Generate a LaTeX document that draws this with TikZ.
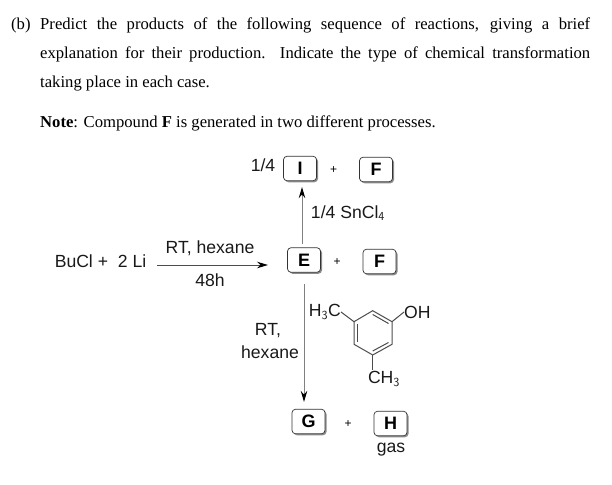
\documentclass[tikz,border=0pt]{standalone}
\usepackage{fontspec}
\setmainfont{Liberation Serif}
\newfontfamily\lsans{Liberation Sans}
\usetikzlibrary{arrows.meta,shadows}
\tikzset{
  body/.style={inner sep=0pt,anchor=base west,font=\fontsize{16.65}{19}\selectfont},
  lab/.style={inner sep=0pt,font=\lsans\fontsize{17.6}{20}\selectfont,text=black!90},
  plus/.style={inner sep=0pt,font=\lsans\fontsize{12}{13}\selectfont},
  cmpd/.style={draw=black!80,line width=0.7pt,rounded corners=3.5pt,fill=white,minimum width=33pt,minimum height=24.5pt,inner sep=0pt,font=\lsans\bfseries\fontsize{18}{20}\selectfont,
    drop shadow={shadow xshift=1.5pt,shadow yshift=-1.5pt,fill=black!50,opacity=0.9}},
  arr/.style={draw=black!50,line width=1pt,-{Stealth[length=11pt,width=6.5pt,black]}},
  bond/.style={draw=black!70,line width=1pt},
}
\begin{document}
\begin{tikzpicture}[x=1pt,y=-1pt]
\useasboundingbox (0,0) rectangle (612,484);
\node[body] (t0) at (11,30) {(b)};
\node[body] (t1) at (40,30) {\makebox[550pt][s]{Predict the products of the following sequence of reactions, giving a brief}};
\node[body] (t2) at (40,59) {\makebox[550pt][s]{explanation for their production. Indicate the type of chemical transformation}};
\node[body] (t3) at (40,88) {taking place in each case.};
\node[body] (t4) at (40,128) {\textbf{Note}: Compound \textbf{F} is generated in two different processes.};

\node[cmpd] (I) at (300,168.5) {I};
\node[cmpd] (F1) at (376,169.5) {F};
\node[cmpd] (E) at (304,260) {E};
\node[cmpd] (F2) at (379.5,261.5) {F};
\node[cmpd] (G) at (308.5,421.5) {G};
\node[cmpd] (H) at (390.5,423.5) {H};

\node[lab] (q) at (263,165) {1/4};
\node[plus] (p1) at (333.5,170) {+};
\node[plus] (p2) at (337,262) {+};
\node[plus] (p3) at (348,424) {+};
\node[lab] (sn) at (348,213) {1/4 SnCl$_{\mathsf 4}$};
\node[lab] (bu) at (100.5,261) {BuCl +\ \ 2 Li};
\node[lab] (rt) at (210,248) {RT, hexane};
\node[lab] (h48) at (210,280) {48h};
\node[lab] (rt2) at (268,331) {RT,};
\node[lab] (hex) at (270,352) {hexane};
\node[lab] (gas) at (391,450) {gas};

\draw[arr] ([xshift=-2pt,yshift=3pt]E.north) -- ([xshift=2pt,yshift=-6pt]I.south);
\draw[arr] ([yshift=-11pt]E.south) -- ([yshift=7pt]E.south |- G.north);
\coordinate (rs) at (157,265);
\coordinate (re) at (268,265);
\draw[arr,draw=black!70] (rs) -- (re);

\coordinate (r1) at (372.7,310.7);
\coordinate (r2) at (392,321.7);
\coordinate (r3) at (392,344.3);
\coordinate (r4) at (372.7,355);
\coordinate (r5) at (354,344.3);
\coordinate (r6) at (354,321.7);
\node[lab,anchor=east] (me1) at (341,312) {H$_{\mathsf 3}$C};
\node[lab,anchor=west] (oh) at (404,312) {OH};
\node[lab] (me2) at (384,379) {CH$_{\mathsf 3}$};
\draw[bond] (r1)--(r2)--(r3)--(r4)--(r5)--(r6)--cycle;
\draw[bond] (r6)--(me1.east);
\draw[bond] (r2)--(oh.west);
\coordinate (mb) at (372.7,370);
\draw[bond] (r4)--(mb);
\coordinate (d1a) at (372.7,314.5);
\coordinate (d1b) at (388.5,323.5);
\coordinate (d2a) at (357.5,324);
\coordinate (d2b) at (357.5,342);
\coordinate (d3a) at (372.7,351);
\coordinate (d3b) at (388.5,342.5);
\draw[bond] (d1a)--(d1b);
\draw[bond] (d2a)--(d2b);
\draw[bond] (d3a)--(d3b);
\end{tikzpicture}
\end{document}
